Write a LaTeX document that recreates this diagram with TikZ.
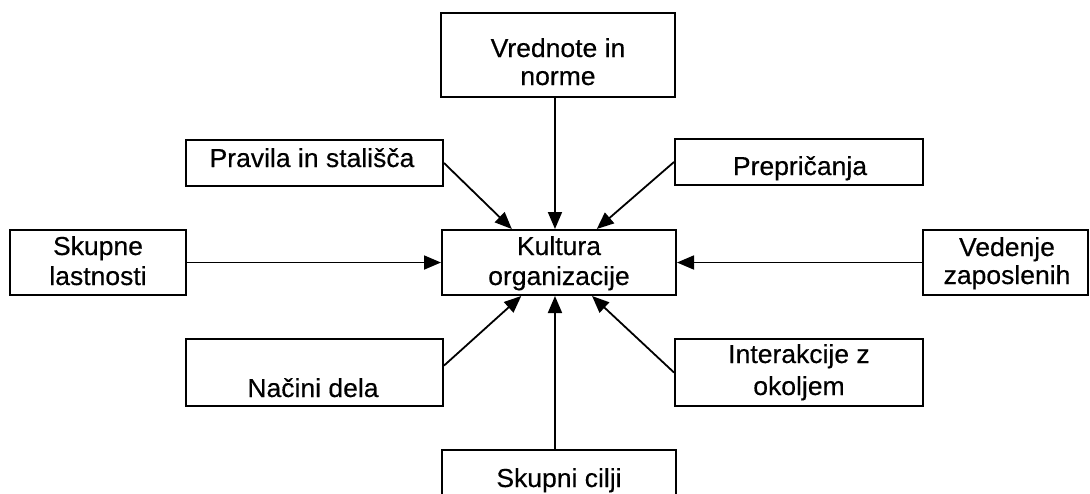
\documentclass[tikz,border=0pt]{standalone}
\usepackage{fontspec}
\setmainfont{Liberation Sans}[FakeStretch=1.02,FakeBold=0.4]
\usetikzlibrary{arrows.meta,calc}
\newcommand{\twol}[3]{\begin{tabular}[t]{@{}c@{}}#1\\[#3]#2\end{tabular}}
\begin{document}
\begin{tikzpicture}[x=1pt,y=-1pt,
  box/.style={draw, line width=2pt, inner sep=0pt},
  lbl/.style={inner sep=0pt, anchor=base, font=\fontsize{26}{28}\selectfont},
  arr/.style={line width=1.8pt, -{Triangle[length=17pt,width=14pt]}}]
\useasboundingbox (0,0) rectangle (1090,493);
\fill[white] (0,0) rectangle (1090,493);
% boxes
\node[box, minimum width=234pt, minimum height=84pt] (vred) at (558,55) {};
\node[box, minimum width=257pt, minimum height=46pt] (prav) at (314.5,163) {};
\node[box, minimum width=248pt, minimum height=46pt] (prep) at (799,162) {};
\node[box, minimum width=176pt, minimum height=65pt] (skup) at (98,262.5) {};
\node[box, minimum width=234pt, minimum height=65pt] (kult) at (559,262.5) {};
\node[box, minimum width=165pt, minimum height=65pt] (ved) at (1005.5,262.5) {};
\node[box, minimum width=257pt, minimum height=67pt] (nac) at (314.5,372.5) {};
\node[box, minimum width=248pt, minimum height=67pt] (inter) at (799,372.5) {};
\node[box, minimum width=234pt, minimum height=80pt] (cilji) at (559,490) {};
% labels
\node[lbl] (tvred) at (558,57) {\twol{Vrednote in}{norme}{0pt}};
\node[lbl] (tprav) at (312,167) {Pravila in stališča};
\node[lbl] (tprep) at (800,175) {Prepričanja};
\node[lbl] (tskup) at (98,255) {\twol{Skupne}{lastnosti}{2pt}};
\node[lbl] (tkult) at (559,255) {\twol{Kultura}{organizacije}{2pt}};
\node[lbl] (tved) at (1007,256) {\twol{Vedenje}{zaposlenih}{0pt}};
\node[lbl] (tnac) at (313,397) {Načini dela};
\node[lbl] (tinter) at (799,363) {\twol{Interakcije z}{okoljem}{4pt}};
\node[lbl] (tcilji) at (559,487) {Skupni cilji};
% connector end points
\coordinate (kN) at ($(kult.north west)!0.483!(kult.north east)$);
\coordinate (kNL) at ($(kult.north west)!0.30!(kult.north east)$);
\coordinate (kNR) at ($(kult.north west)!0.66!(kult.north east)$);
\coordinate (kS) at ($(kult.south west)!0.483!(kult.south east)$);
\coordinate (kSL) at ($(kult.south west)!0.34!(kult.south east)$);
\coordinate (kSR) at ($(kult.south west)!0.64!(kult.south east)$);
\coordinate (nacE) at ($(nac.north east)!0.4!(nac.south east)$);
% connectors
\draw[arr] (vred.south -| kN) -- (kN);
\draw[arr] (prav.east) -- (kNL);
\draw[arr] (prep.west) -- (kNR);
\draw[arr] (skup.east) -- (kult.west);
\draw[arr] (ved.west) -- (kult.east);
\draw[arr] (nacE) -- (kSL);
\draw[arr] (inter.west) -- (kSR);
\draw[arr] (cilji.north -| kS) -- (kS);
\end{tikzpicture}
\end{document}
